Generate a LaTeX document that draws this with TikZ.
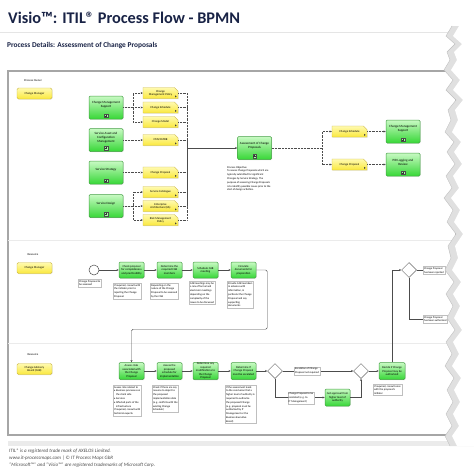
\documentclass[tikz,border=0pt]{standalone}
\usepackage{fontspec}
\setmainfont{Carlito}
\usetikzlibrary{shapes.geometric,shapes.misc,arrows.meta,calc,shadows}
\definecolor{gtop}{RGB}{200,250,195}
\definecolor{gbot}{RGB}{55,215,55}
\definecolor{gdraw}{RGB}{70,160,70}
\definecolor{ytop}{RGB}{255,250,175}
\definecolor{ybot}{RGB}{250,232,60}
\definecolor{ydraw}{RGB}{205,185,70}
\definecolor{titleblue}{RGB}{25,35,70}
\newcommand\acttxt{\fontsize{2.9}{3.5}\selectfont}
\newcommand\subtxt{\fontsize{3.2}{3.8}\selectfont}
\newcommand\anntxt{\fontsize{2.7}{3.8}\selectfont}
\newcommand\dmark[1]{\fill[black!75] ($(#1.south east)+(-3.2,-1.3)$) -- ++(0,-2) -- ++(1.7,1) -- cycle;}
\newcommand\spmark[1]{\draw[black!70, line width=0.35, fill=green!35] ($(#1.south)+(-1.8,-5.3)$) rectangle ++(3.6,3.6);
  \draw[black!80, line width=0.35] ($(#1.south)+(0,-4.7)$) -- ++(0,2.4) ($(#1.south)+(-1.2,-3.5)$) -- ++(2.4,0);}
\begin{document}
\begin{tikzpicture}[x=1pt,y=-1pt,
  shd/.style={drop shadow={shadow xshift=0.6pt,shadow yshift=-0.6pt,opacity=0.22}},
  act/.style={rectangle, rounded corners=1.2, draw=gdraw, line width=0.5, top color=gtop, bottom color=gbot,
    minimum width=25, minimum height=16, inner sep=0.5, align=center, font=\acttxt, shd},
  subact/.style={act, minimum width=34, minimum height=23},
  tx/.style={font=\subtxt, align=center, inner sep=0},
  dobj/.style={chamfered rectangle, chamfered rectangle corners=north east, chamfered rectangle xsep=1.8pt,
    chamfered rectangle ysep=1.8pt, draw=ydraw, line width=0.4, top color=ytop, bottom color=ybot,
    minimum width=35, minimum height=11, inner sep=0.5, align=center, font=\acttxt, shd},
  role/.style={rectangle, rounded corners=1.5, draw=ydraw, line width=0.4, top color=ytop, bottom color=ybot,
    minimum width=35, minimum height=11, inner sep=0.5, align=center, font=\acttxt, shd},
  lanelbl/.style={font=\acttxt, inner sep=0},
  dotln/.style={densely dotted, line width=0.45, draw=black!70},
  dotarr/.style={dotln, -{Stealth[length=2.2pt,width=2pt]}},
  ln/.style={line width=0.45, draw=black!70},
  seq/.style={ln, -{Stealth[length=2.2pt,width=2pt]}},
  gw/.style={diamond, draw=black!60, line width=0.5, fill=white, minimum width=15, minimum height=15, inner sep=0},
  startev/.style={circle, draw=black!70, line width=0.5, fill=white, minimum size=10, inner sep=0},
  annot/.style={draw=black!25, line width=0.3, fill=white, font=\anntxt, align=left, inner sep=1, anchor=north west}
]
\useasboundingbox (0,0) rectangle (474,474);
\fill[white] (0,0) rectangle (474,474);

% header
\node[anchor=west, font=\fontsize{16.3}{16.3}\selectfont\bfseries, text=titleblue, inner sep=0] (title) at (8,17.5) {Visio™: ITIL® Process Flow - BPMN};
\draw[black!10, line width=0.8] (0,32) -- (450,32);
\node[anchor=west, font=\fontsize{7.4}{7.4}\selectfont\bfseries, text=titleblue, inner sep=0] (sub) at (7,46) {Process Details: Assessment of Change Proposals};

% frame and lanes
\draw[black!35, line width=1.1] (8,71) rectangle (456,435);
\draw[black!8, line width=0.5] (8,240) -- (456,240);
\draw[black!8, line width=0.5] (8,343) -- (456,343);

% lane labels
\node[lanelbl] (lbl1) at (33,81) {Process Owner};
\node[role] (r1) at (34.5,93.5) {Change Manager};
\node[lanelbl] (lbl2) at (33,255) {Resource};
\node[role] (r2) at (34.5,268) {Change Manager};
\node[lanelbl] (lbl3) at (33,355) {Resource};
\node[role] (r3) at (34.5,369) {Change Advisory\\Board (CAB)};

% ---------- lane 1 ----------
\node[subact] (cms1) at (106,107.5) {};
\node[tx] (cms1t) at ($(cms1)+(0,-2.5)$) {Change Management\\Support};
\node[subact] (sacm) at (106,140) {};
\node[tx] (sacmt) at ($(sacm)+(0,-2.5)$) {Service Asset and\\Configuration\\Management};
\node[subact] (ss) at (106,172.5) {};
\node[tx] (sst) at ($(ss)+(0,-2.5)$) {Service Strategy};
\node[subact] (sd) at (106,206) {};
\node[tx] (sdt) at ($(sd)+(0,-2.5)$) {Service Design};
\spmark{cms1}\spmark{sacm}\spmark{ss}\spmark{sd}

\node[dobj] (d1) at (160.5,93) {Change\\Management Policy};
\node[dobj] (d2) at (160.5,107.5) {Change Schedule};
\node[dobj] (d3) at (160.5,122) {Change Model};
\node[dobj] (d4) at (160.5,140) {CMS/CMDB};
\node[dobj] (d5) at (160.5,172.5) {Change Proposal};
\node[dobj] (d6) at (160.5,192) {Service Catalogue};
\node[dobj] (d7) at (160.5,206) {Enterprise\\Architecture (EA)};
\node[dobj] (d8) at (160.5,220) {Risk Management\\Policy};
\dmark{d1}\dmark{d2}\dmark{d3}\dmark{d4}\dmark{d5}\dmark{d6}\dmark{d7}\dmark{d8}

\draw[dotarr] (cms1.east) -- ++(10,0) |- (d1.west);
\draw[dotarr] (cms1.east) -- (d2.west);
\draw[dotarr] (cms1.east) -- ++(10,0) |- (d3.west);
\draw[dotarr] (sacm.east) -- (d4.west);
\draw[dotarr] (ss.east) -- (d5.west);
\draw[dotarr] (sd.east) -- ++(10,0) |- (d6.west);
\draw[dotarr] (sd.east) -- (d7.west);
\draw[dotarr] (sd.east) -- ++(10,0) |- (d8.west);

\node[subact] (asm) at (254.5,148) {};
\node[tx] (asmt) at ($(asm)+(0,-2.5)$) {Assessment of Change\\Proposals};
\spmark{asm}
\coordinate (col) at (187,148);
\foreach \d in {d1,d2,d3,d4,d5,d6,d7,d8} {\draw[dotln] (\d.east) -| (col);}
\draw[seq] (col) -- (asm.west);

\node[anchor=north west, font=\anntxt, align=left, inner sep=0] (obj) at (227,166)
 {Process Objective:\\To assess Change Proposals which are\\typically submitted for significant\\Changes by Service Strategy. The\\purpose of assessing Change Proposals\\is to identify possible issues prior to the\\start of design activities.};

\node[dobj] (cs2) at (349.5,131.5) {Change Schedule};
\node[dobj] (cp2) at (349.5,164.5) {Change Proposal};
\dmark{cs2}\dmark{cp2}
\node[subact] (cms2) at (403,131.5) {};
\node[tx] (cms2t) at ($(cms2)+(0,-2.5)$) {Change Management\\Support};
\node[subact] (pir) at (403,164.5) {};
\node[tx] (pirt) at ($(pir)+(0,-2.5)$) {PIR Logging and\\Review};
\spmark{cms2}\spmark{pir}
\coordinate (rb) at (322,148);
\draw[dotln] (asm.east) -- (rb);
\draw[dotarr] (rb) |- (cs2.west);
\draw[dotarr] (rb) |- (cp2.west);
\draw[dotarr] (cs2.east) -- (cms2.west);
\draw[dotarr] (cp2.east) -- (pir.west);

% ---------- lane 2 ----------
\node[startev] (st) at (94,270) {};
\node[act] (a1) at (131.5,270) {Check proposal\\for completeness\\and practicability};
\node[act] (a2) at (169.5,270) {Determine the\\required CAB\\members};
\node[act] (a3) at (205.5,270) {Schedule CAB\\meeting};
\node[act] (a4) at (243.5,270) {Circulate\\documents for\\preparation};
\draw[seq] (st) -- (a1);
\draw[seq] (a1) -- (a2);
\draw[seq] (a2) -- (a3);
\draw[seq] (a3) -- (a4);
\node[annot] (stl) at (78,279) {Change Proposal to\\be assessed};
\node[annot] (n1) at (113,283) {If required, consult with\\the initiator prior to\\rejecting the Change\\Proposal.};
\node[annot] (n2) at (150,283) {Depending on the\\nature of the Change\\Proposal to be assessed\\by the CAB};
\node[annot] (n3) at (189,281) {CAB meetings may be\\a mix of formal and\\electronic meetings\\depending on the\\complexity of the\\issues to be discussed};
\node[annot] (n4) at (227,281) {Provide CAB members\\in advance with\\information, in\\particular the Change\\Proposal and any\\supporting\\documents};

% ---------- lane 3 ----------
\node[act, minimum height=17] (b1) at (131.5,371) {Assess risks\\associated with\\the Change\\Proposal};
\node[act, minimum height=17] (b2) at (169.5,371) {Assess the\\proposed\\schedule for\\implementation};
\node[act, minimum height=17] (b3) at (205.5,371) {Determine any\\required\\modifications to\\the Change\\Proposal};
\node[act, minimum height=17] (b4) at (243.5,371) {Determine if\\Change Proposal\\must be escalated};
\node[gw] (g1) at (275,371) {};
\node[gw] (g2) at (361,371) {};
\node[act, minimum width=26, minimum height=17] (dec) at (392,371) {Decide if Change\\Proposal may be\\authorized};
\node[act, minimum height=17] (get) at (337.5,397.5) {Get approval from\\higher level of\\authority};
\node[gw] (g3) at (409,270) {};
\coordinate (rejc) at (450,270);
\coordinate (autc) at (450,319);

\draw[seq, rounded corners=1.5] (a4.east) -- ++(11,0) |- ($(b1.north)+(0,-33)$) -- (b1.north);
\draw[seq] (b1) -- (b2);
\draw[seq] (b2) -- (b3);
\draw[seq] (b3) -- (b4);
\draw[seq] (b4) -- (g1);
\draw[seq] (g1) -- (g2);
\draw[seq] (g2) -- (dec);
\draw[seq] (g1.south) |- (get.west);
\draw[seq] (get.east) -| (g2.south);
\draw[seq] (dec.north) |- (g3.west);
\draw[ln] (g3.east) -- (rejc);
\draw[ln] (g3.south) |- (autc);

\node[annot, anchor=center] (esc1) at (307,371) {Escalation of Change\\Proposal not required};
\node[annot, anchor=center] (esc2) at (301,398) {Change Proposal to be\\escalated (e.g. to\\IT Management)};
\node[annot, anchor=west] (rej) at (423,270.5) {Change Proposal\\has been rejected};
\node[annot, anchor=west] (aut) at (423,319) {Change Proposal\\has been authorized};
\node[annot] (m1) at (113,385) {Assess risks related to\\\textbullet\ Business processes on\\\phantom{\textbullet\ }the client side\\\textbullet\ Services\\\textbullet\ Affected parts of the\\\phantom{\textbullet\ }infrastructure\\If required, consult with\\technical experts.};
\node[annot] (m2) at (152,385) {Check if there are any\\reasons to object to\\the proposed\\implementation date\\(e.g. conflicts with the\\existing Change\\Schedule)};
\node[annot] (m4) at (225,385) {If the assessment leads\\to the conclusion that a\\higher level of authority is\\required to authorize\\the proposed Change\\(e.g. proposal must be\\authorized by IT\\Management or the\\Business Executive\\Board)};
\node[annot] (m5) at (373,384) {If required, consult once\\with the proposal's\\initiator};

% footer
\fill[black!8] (8,441) rectangle (450,446);
\node[anchor=north west, font=\fontsize{5}{6.8}\selectfont\itshape, text=black!70, align=left, inner sep=0] (foot) at (9,449)
 {ITIL® is a registered trade mark of AXELOS Limited.\\www.it-processmaps.com | © IT Process Maps GbR\\“Microsoft™” and “Visio™” are registered trademarks of Microsoft Corp.};

% torn edge
\fill[black!12] plot coordinates {(452,26) (446,36) (455,44) (447,52) (450,60) (444,70) (453,80) (446,90) (456,100) (448,110) (451,120) (445,132) (454,142) (447,152) (455,164) (446,176) (452,188) (444,198) (453,210) (447,222) (456,234) (448,246) (451,258) (445,270) (454,282) (446,294) (453,306) (447,318) (455,330) (446,342) (452,354) (445,366) (454,378) (447,390) (453,402) (446,414) (452,426) (445,436) (450,446)} -- (474,446) -- (474,26) -- cycle;
\fill[white, xshift=7pt] plot coordinates {(452,26) (446,36) (455,44) (447,52) (450,60) (444,70) (453,80) (446,90) (456,100) (448,110) (451,120) (445,132) (454,142) (447,152) (455,164) (446,176) (452,188) (444,198) (453,210) (447,222) (456,234) (448,246) (451,258) (445,270) (454,282) (446,294) (453,306) (447,318) (455,330) (446,342) (452,354) (445,366) (454,378) (447,390) (453,402) (446,414) (452,426) (445,436) (450,446)} -- (482,446) -- (482,26) -- cycle;
\draw[black!25, line width=0.4] plot coordinates {(452,26) (446,36) (455,44) (447,52) (450,60) (444,70) (453,80) (446,90) (456,100) (448,110) (451,120) (445,132) (454,142) (447,152) (455,164) (446,176) (452,188) (444,198) (453,210) (447,222) (456,234) (448,246) (451,258) (445,270) (454,282) (446,294) (453,306) (447,318) (455,330) (446,342) (452,354) (445,366) (454,378) (447,390) (453,402) (446,414) (452,426) (445,436) (450,446)};
\end{tikzpicture}
\end{document}
